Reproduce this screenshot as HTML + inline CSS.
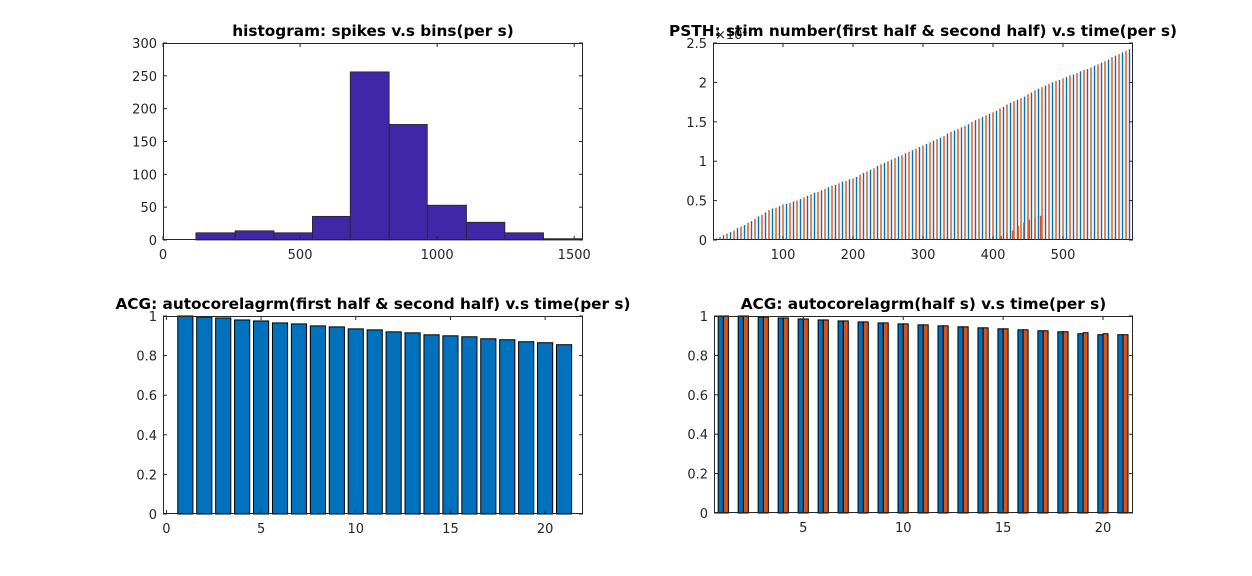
<!DOCTYPE html>
<html><head><meta charset="utf-8"><style>
html,body{margin:0;padding:0;background:#fff;}
svg{display:block;font-family:"DejaVu Sans","Liberation Sans",sans-serif;}
.tk{font-size:13px;fill:#262626;}
.tt{font-size:15.3px;font-weight:bold;fill:#000;}
</style></head><body>
<svg id="fig" width="1252" height="576" xmlns="http://www.w3.org/2000/svg"></svg>
<script>
// Histogram data
const histEdges=[120,263,405,545,683,825,964,1107,1247,1388,1530];
const histCounts=[11,14,11,36,256,176,53,27,11,2];
const histXTicks=[0,500,1000,1500];
const histYTicks=[0,50,100,150,200,250,300];
// PSTH data
const psthX=[];for(let i=1;i<=119;i++)psthX.push(i*5);
const psthY=[0.02,0.04,0.06,0.08,0.10,0.12,0.15,0.17,0.19,0.22,0.24,0.27,0.30,0.32,0.35,0.38,0.40,0.41,0.43,0.45,0.46,0.47,0.49,0.50,0.52,0.54,0.56,0.58,0.60,0.61,0.63,0.65,0.67,0.69,0.70,0.72,0.74,0.75,0.77,0.78,0.80,0.83,0.85,0.87,0.89,0.91,0.94,0.96,0.98,1.00,1.02,1.04,1.06,1.08,1.10,1.12,1.14,1.16,1.18,1.20,1.22,1.24,1.26,1.28,1.30,1.32,1.35,1.37,1.39,1.41,1.43,1.45,1.47,1.50,1.52,1.54,1.56,1.58,1.60,1.62,1.64,1.67,1.69,1.72,1.74,1.76,1.78,1.80,1.82,1.85,1.87,1.90,1.92,1.94,1.96,1.98,2.00,2.02,2.03,2.05,2.07,2.09,2.10,2.12,2.14,2.16,2.17,2.19,2.21,2.23,2.25,2.27,2.29,2.32,2.34,2.36,2.38,2.40,2.42];
const psthSmallX=[412,420,428,436,444,452,460,468];
const psthSmallY=[0.05,0.09,0.12,0.18,0.22,0.26,0.28,0.31];
const psthXTicks=[100,200,300,400,500];
const psthYTicks=[0,0.5,1,1.5,2,2.5];
// ACG full
const acgX=[1,2,3,4,5,6,7,8,9,10,11,12,13,14,15,16,17,18,19,20,21];
const acgY=[1,0.995,0.99,0.98,0.975,0.965,0.96,0.95,0.945,0.935,0.93,0.92,0.915,0.905,0.9,0.895,0.885,0.88,0.87,0.865,0.855];
const acgXTicks=[0,5,10,15,20];
const acgYTicks=[0,0.2,0.4,0.6,0.8,1];
// ACG half
const halfBlue=[1,1,0.995,0.99,0.985,0.98,0.975,0.97,0.965,0.96,0.955,0.95,0.945,0.94,0.935,0.93,0.925,0.92,0.91,0.905,0.905];
const halfOrange=[1,1,0.995,0.99,0.985,0.98,0.975,0.97,0.965,0.96,0.955,0.95,0.945,0.94,0.935,0.93,0.925,0.92,0.915,0.91,0.905];
const halfXTicks=[5,10,15,20];

const NS="http://www.w3.org/2000/svg";
const svg=document.getElementById('fig');
function mk(tag,attrs,parent){const e=document.createElementNS(NS,tag);for(const k in attrs)e.setAttribute(k,attrs[k]);(parent||svg).appendChild(e);return e;}
function txt(x,y,s,cls,anchor,parent){const t=mk('text',{x:x,y:y,class:cls,'text-anchor':anchor||'middle'},parent);t.textContent=s;return t;}

function axes(name,L,R,T,B,x0,x1,y0,y1,xt,yt,title,fmtY){
  const g=mk('g',{});
  
  
  const sx=v=>L+(v-x0)/(x1-x0)*(R-L);
  const sy=v=>B-(v-y0)/(y1-y0)*(B-T);
  mk('rect',{x:L,y:T,width:R-L,height:B-T,fill:'#fff'},g);
  const marks=mk('g',{},g);
  
  
  const frame=mk('g',{},g);
  
  
  xt.forEach(v=>{const x=sx(v);
    mk('line',{x1:x,x2:x,y1:B,y2:B-4,stroke:'#262626','stroke-width':1},frame);
    mk('line',{x1:x,x2:x,y1:T,y2:T+4,stroke:'#262626','stroke-width':1},frame);
    const t=txt(x,B+19,String(v),'tk','middle',frame);
    
    
  });
  yt.forEach(v=>{const y=sy(v);
    mk('line',{x1:L,x2:L+4,y1:y,y2:y,stroke:'#262626','stroke-width':1},frame);
    mk('line',{x1:R,x2:R-4,y1:y,y2:y,stroke:'#262626','stroke-width':1},frame);
    const t=txt(L-6,y+5,fmtY?fmtY(v):String(v),'tk','end',frame);
    
    
  });
  mk('rect',{x:L+0.5,y:T+0.5,width:R-L-1,height:B-T-1,fill:'none',stroke:'#262626','stroke-width':1},frame);
  const tt=txt((L+R)/2,T-7,title,'tt','middle',g);
  
  
  return {sx,sy,marks,frame,g};
}

// Histogram
(function(){
  const a=axes('histogram-chart',163,583,43,240,0,1532,0,300,histXTicks,histYTicks,'histogram: spikes v.s bins(per s)');
  histCounts.forEach((c,i)=>{
    const x=a.sx(histEdges[i]),x2=a.sx(histEdges[i+1]),y=a.sy(c);
    const r=mk('rect',{x:x,y:y,width:x2-x,height:a.sy(0)-y,fill:'#3f27a8',stroke:'#262626','stroke-width':0.8},a.marks);
    
    
  });
})();

// PSTH
(function(){
  const a=axes('psth-chart',713,1133,43,240,0,600,0,2.5,psthXTicks,psthYTicks,'PSTH: stim number(first half & second half) v.s time(per s)',v=>v===0?'0':String(v));
  psthY.forEach((v,i)=>{
    const x=a.sx(psthX[i]),y=a.sy(v);
    const r=mk('rect',{x:x-0.7,y:y,width:1.4,height:a.sy(0)-y,fill:i%2?'#d95319':'#0072bd'},a.marks);
    
    
  });
  psthSmallY.forEach((v,i)=>{
    const x=a.sx(psthSmallX[i]),y=a.sy(v);
    const r=mk('rect',{x:x-0.7,y:y,width:1.4,height:a.sy(0)-y,fill:'#d95319'},a.marks);
    
    
  });
  const e=mk('text',{x:715,y:39,class:'tk','text-anchor':'start','font-size':'11px'},a.g);
  e.textContent='×10⁴';
  
  
  a.g.appendChild(a.g.querySelector('.tt'));
})();

// ACG full
(function(){
  const a=axes('acg-full-chart',163,583,316,514,-0.18,22,0,1,acgXTicks,acgYTicks,'ACG: autocorelagrm(first half & second half) v.s time(per s)');
  acgY.forEach((v,i)=>{
    const x=a.sx(acgX[i]-0.4),x2=a.sx(acgX[i]+0.4),y=a.sy(v);
    const r=mk('rect',{x:x,y:y,width:x2-x,height:a.sy(0)-y,fill:'#0072bd',stroke:'#000','stroke-width':1},a.marks);
    
    
  });
})();

// ACG half
(function(){
  const a=axes('acg-half-chart',714,1133,316,513,0.53,21.5,0,1,halfXTicks,acgYTicks,'ACG: autocorelagrm(half s) v.s time(per s)');
  halfBlue.forEach((v,i)=>{
    const c=i+1;
    const x=a.sx(c-0.26),x2=a.sx(c),y=a.sy(v);
    const r=mk('rect',{x:x,y:y,width:x2-x,height:a.sy(0)-y,fill:'#0072bd',stroke:'#000','stroke-width':1},a.marks);
    
    
  });
  halfOrange.forEach((v,i)=>{
    const c=i+1;
    const x=a.sx(c),x2=a.sx(c+0.25),y=a.sy(v);
    const r=mk('rect',{x:x,y:y,width:x2-x,height:a.sy(0)-y,fill:'#d95319',stroke:'#000','stroke-width':1},a.marks);
    
    
  });
})();
</script>
</body></html>
